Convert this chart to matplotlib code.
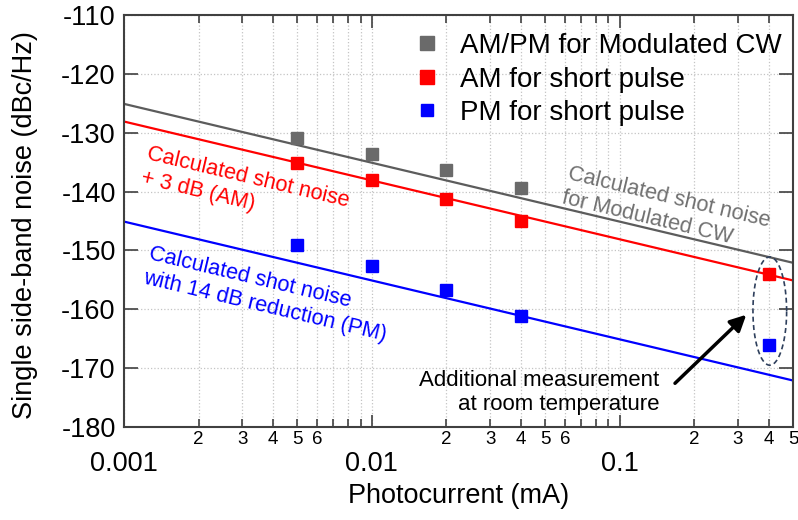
import numpy as np
import matplotlib
matplotlib.use('Agg')
import matplotlib.pyplot as plt
from matplotlib.ticker import LogLocator, FuncFormatter, FixedLocator

plt.rcParams['font.family'] = ['Liberation Sans', 'DejaVu Sans']
plt.rcParams['axes.unicode_minus'] = False

# measured points (photocurrent in mA, noise in dBc/Hz)
cw_x = [0.005, 0.01, 0.02, 0.04]
cw_y = [-130.9, -133.6, -136.4, -139.4]
am_x = [0.005, 0.01, 0.02, 0.04, 0.4]
am_y = [-135.1, -138.1, -141.3, -145.0, -154.0]
pm_x = [0.005, 0.01, 0.02, 0.04, 0.4]
pm_y = [-149.1, -152.6, -156.7, -161.1, -166.1]

# calculated shot-noise lines (end points)
line_x = [0.001, 0.5]
shot_cw = [-125.1, -152.1]
shot_am = [-128.1, -155.1]
shot_pm = [-145.1, -172.1]

GRAY = '#6a6a6a'
RED = '#ff0000'
BLUE = '#0000ff'

fig = plt.figure(figsize=(7.98, 5.2), dpi=100)
ax = fig.add_axes([124/798, 1 - 427/520, 669/798, 412/520])

ax.plot(line_x, shot_cw, color='#5c5c5c', lw=1.6, zorder=2)
ax.plot(line_x, shot_am, color=RED, lw=1.6, zorder=2)
ax.plot(line_x, shot_pm, color=BLUE, lw=1.6, zorder=2)

ax.plot(cw_x, cw_y, 's', color=GRAY, ms=9, ls='none', label='AM/PM for Modulated CW', zorder=3)
ax.plot(am_x, am_y, 's', color=RED, ms=9, ls='none', label='AM for short pulse', zorder=3)
ax.plot(pm_x, pm_y, 's', color=BLUE, ms=8.5, ls='none', label='PM for short pulse', zorder=3)

ax.set_xscale('log')
ax.set_xlim(0.001, 0.5)
ax.set_ylim(-180, -110)
ax.set_yticks(np.arange(-180, -109, 10))

ax.xaxis.set_major_locator(FixedLocator([0.001, 0.01, 0.1]))
ax.xaxis.set_major_formatter(FuncFormatter(lambda v, p: '%g' % v))
ax.xaxis.set_minor_locator(LogLocator(base=10, subs=np.arange(2, 10)))


def minor_fmt(v, p):
    d = int(round(v / 10 ** np.floor(np.log10(v) + 1e-9)))
    return str(d) if d in (2, 3, 4, 5, 6) else ''


ax.xaxis.set_minor_formatter(FuncFormatter(minor_fmt))

ax.tick_params(axis='both', which='both', direction='in', top=True, right=True,
               color='#404040', width=1.2)
ax.tick_params(axis='y', which='major', length=10, pad=6, labelsize=19.5)
ax.tick_params(axis='x', which='major', length=9, pad=17, labelsize=19.5)
ax.tick_params(axis='x', which='minor', length=6, pad=3, labelsize=13.5)

for s in ax.spines.values():
    s.set_color('#404040')
    s.set_linewidth(1.5)

ax.grid(True, which='major', axis='both', ls=':', color='#c4c4c4', lw=0.9)
ax.grid(True, which='minor', axis='x', ls=':', color='#c4c4c4', lw=0.9)
ax.set_axisbelow(True)

ax.set_ylabel('Single side-band noise (dBc/Hz)', fontsize=19.5)
ax.yaxis.set_label_coords(-0.129, 0.49)
ax.set_xlabel('Photocurrent (mA)', fontsize=19.5)
ax.xaxis.set_label_coords(0.5, -0.137)

ax.legend(loc='upper right', bbox_to_anchor=(1.01, 1.0), frameon=False, fontsize=20,
          handlelength=0.8, handletextpad=0.8, labelspacing=0.27, borderaxespad=0.25,
          markerscale=1.1)

ang = -13.35
ax.text(0.00117, -138.0, 'Calculated shot noise\n+ 3 dB (AM)', color=RED, fontsize=15.7,
        rotation=ang, rotation_mode='anchor', ha='left', va='baseline', linespacing=1.2)
ax.text(0.0583, -141.4, 'Calculated shot noise\nfor Modulated CW', color='#707070', fontsize=15.7,
        rotation=ang, rotation_mode='anchor', ha='left', va='baseline', linespacing=1.2)
ax.text(0.00119, -155.0, 'Calculated shot noise\nwith 14 dB reduction (PM)', color=BLUE, fontsize=15.7,
        rotation=ang, rotation_mode='anchor', ha='left', va='baseline', linespacing=1.2)

# dashed ellipse around the room-temperature points
t = np.linspace(0, 2 * np.pi, 200)
ex = 10 ** (np.log10(0.403) + 0.068 * np.cos(t))
ey = -160.3 + 9.2 * np.sin(t)
ax.plot(ex, ey, ls=(0, (3, 2)), color='#2e3f5c', lw=1.2, zorder=2)

ax.annotate('', xy=(0.33, -160.6), xytext=(0.164, -172.9),
            arrowprops=dict(arrowstyle='-|>', color='black', lw=2.5, mutation_scale=24))
ax.text(0.145, -174.1, 'Additional measurement\nat room temperature', fontsize=16,
        ha='right', va='center', multialignment='right', linespacing=1.2)

fig.savefig('out.png', dpi=100)
